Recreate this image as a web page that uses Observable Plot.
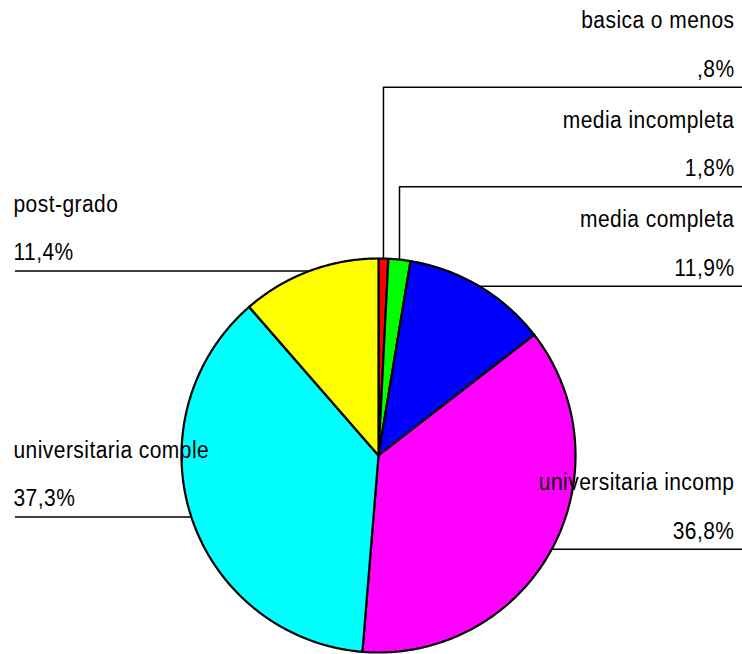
<!DOCTYPE html>
<html>
<head>
<meta charset="utf-8">
<script src="https://cdn.jsdelivr.net/npm/d3@7"></script>
<script src="https://cdn.jsdelivr.net/npm/@observablehq/plot@0.6"></script>
<style>
  html, body { margin: 0; padding: 0; background: #fff; }
  #chart svg { display: block; }
</style>
</head>
<body>
<div id="chart"></div>
<script>
// ---- data ----
const categories = ["basica o menos", "media incompleta", "media completa", "universitaria incomp", "universitaria comple", "post-grado"];
const percents = [0.8, 1.8, 11.9, 36.8, 37.3, 11.4];
const palette = ["#ff0000", "#00ff00", "#0000ff", "#ff00ff", "#00ffff", "#ffff00"];

// ---- layout (pixels -> radius units) ----
const W = 742, H = 654, CX = 378, CY = 455, R = 197;
const ux = px => (px - CX) / R;
const uy = py => (CY - py) / R;
const xDomain = [ux(0), ux(W)];
const yDomain = [uy(H), uy(0)];
const labelGap = 99.5 / R;
const rightTextX = ux(734), leftTextX = ux(13);
const rightLineEnd = ux(W), leftLineStart = ux(15);

const fmt = v => (v < 1 ? v.toFixed(1).slice(1) : v.toFixed(1)).replace(".", ",") + "%";

const arcs = d3.pie().sort(null).value(d => d)(percents);

// slice polygons
const sliceRows = [];
arcs.forEach((a, i) => {
  const name = categories[i];
  sliceRows.push({name, x: 0, y: 0});
  const n = Math.max(2, Math.ceil((a.endAngle - a.startAngle) / (Math.PI / 360)));
  for (let k = 0; k <= n; k++) {
    const t = a.startAngle + (a.endAngle - a.startAngle) * k / n;
    sliceRows.push({name, x: Math.sin(t), y: Math.cos(t)});
  }
  sliceRows.push({name, x: 0, y: 0});
});

// labels with simple upward collision avoidance per side
const labels = arcs.map((a, i) => {
  const mid = (a.startAngle + a.endAngle) / 2;
  return {
    name: categories[i],
    pct: fmt(percents[i]),
    ax: Math.sin(mid),
    ay: Math.cos(mid),
    side: mid < Math.PI ? "right" : "left"
  };
});
for (const side of ["right", "left"]) {
  const group = labels.filter(d => d.side === side).sort((a, b) => a.ay - b.ay);
  let prev = -Infinity;
  for (const d of group) {
    d.level = Math.max(d.ay, prev + labelGap);
    prev = d.level;
  }
}

const leaderRows = [];
for (const d of labels) {
  leaderRows.push({key: d.name, x: d.ax, y: d.ay});
  if (Math.abs(d.level - d.ay) > 1e-6) leaderRows.push({key: d.name, x: d.ax, y: d.level});
  leaderRows.push({key: d.name, x: d.side === "right" ? rightLineEnd : leftLineStart, y: d.level});
}

const right = labels.filter(d => d.side === "right");
const left = labels.filter(d => d.side === "left");
const font = {fontSize: 21, fontFamily: "'Liberation Sans', Arial, sans-serif", fill: "black", lineAnchor: "bottom"};

const chart = Plot.plot({
  width: W,
  height: H,
  margin: 0,
  style: {background: "white", letterSpacing: "0.45px"},
  x: {domain: xDomain, axis: null},
  y: {domain: yDomain, axis: null},
  color: {domain: categories, range: palette},
  marks: [
    Plot.line(sliceRows, {x: "x", y: "y", z: "name", fill: "name", stroke: "black", strokeWidth: 2.2, strokeLinejoin: "round"}),
    Plot.line(leaderRows, {x: "x", y: "y", z: "key", stroke: "black", strokeWidth: 1.5}),
    Plot.text(right, {...font, x: () => rightTextX, y: "level", text: "name", textAnchor: "end", dy: -59}),
    Plot.text(right, {...font, x: () => rightTextX, y: "level", text: "pct", textAnchor: "end", dy: -10.5}),
    Plot.text(left, {...font, x: () => leftTextX, y: "level", text: "name", textAnchor: "start", dy: -59}),
    Plot.text(left, {...font, x: () => leftTextX, y: "level", text: "pct", textAnchor: "start", dy: -10.5})
  ]
});
// slight vertical stretch of the glyphs, as in the reference rendering
chart.querySelectorAll('g[aria-label="text"] text').forEach(t => {
  const tr = t.getAttribute("transform");
  if (tr) t.setAttribute("transform", tr + " scale(1,1.1)");
});
document.getElementById("chart").appendChild(chart);
</script>
</body>
</html>
